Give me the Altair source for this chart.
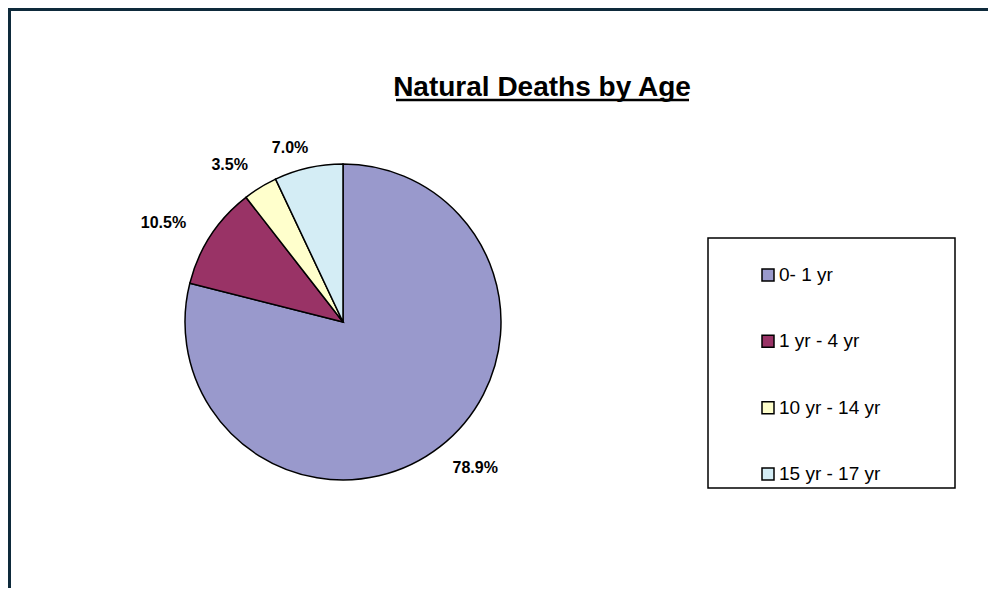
import altair as alt
import pandas as pd

title_text = "Natural Deaths by Age"
ages = ["0- 1 yr", "1 yr - 4 yr", "10 yr - 14 yr", "15 yr - 17 yr"]
deaths = [45, 6, 2, 4]
colors = ["#9999CC", "#993366", "#FFFFCC", "#D4EDF5"]

df = pd.DataFrame({"age": ages, "deaths": deaths, "idx": list(range(len(ages)))})
tdf = pd.DataFrame({"t": [title_text]})

FONT = "Liberation Sans"
CX, CY, R = 335, 314, 158
TOFF = -0.075

color = alt.Color("age:N", scale=alt.Scale(domain=ages, range=colors), legend=None)

frame_top = alt.Chart(tdf).mark_rule(color="#0E2A3B", strokeWidth=3).encode(
    x=alt.value(0), x2=alt.value(980), y=alt.value(1.5))
frame_left = alt.Chart(tdf).mark_rule(color="#0E2A3B", strokeWidth=3).encode(
    x=alt.value(1.5), y=alt.value(0), y2=alt.value(580))

arcs = alt.Chart(df).mark_arc(stroke="black", strokeWidth=1.5, radius=R).encode(
    theta=alt.Theta("deaths:Q", stack=True),
    color=color,
    order=alt.Order("idx:Q"),
    x=alt.value(CX), y=alt.value(CY),
)

labels = alt.Chart(df).transform_joinaggregate(
    total="sum(deaths)"
).transform_window(
    cum="sum(deaths)", sort=[alt.SortField("idx")], frame=[None, 0]
).transform_calculate(
    pct="datum.deaths / datum.total",
    midv="datum.cum - datum.deaths / 2",
).transform_calculate(
    mid=f"datum.midv / datum.total * 2 * PI + ({TOFF})",
).transform_calculate(
    lr="170 + 40 * abs(sin(datum.mid))"
).mark_text(thetaOffset=TOFF, fontSize=16, fontWeight="bold", font=FONT, color="black").encode(
    theta=alt.Theta("midv:Q", stack=None),
    radius=alt.Radius("lr:Q", scale=alt.Scale(type="linear", domain=[0, 300], range=[0, 300], zero=True)),
    text=alt.Text("pct:Q", format=".1%"),
    x=alt.value(CX), y=alt.value(CY),
)

title = alt.Chart(tdf).mark_text(fontSize=28, fontWeight="bold", font=FONT,
                                 baseline="alphabetic", align="center", color="black").encode(
    text="t:N", x=alt.value(534), y=alt.value(88))
underline = alt.Chart(tdf).mark_rule(color="black", strokeWidth=2.5).encode(
    x=alt.value(388), x2=alt.value(681), y=alt.value(92))

legend_box = alt.Chart(tdf).mark_rect(fill="white", stroke="black", strokeWidth=1.5).encode(
    x=alt.value(700), x2=alt.value(947), y=alt.value(230), y2=alt.value(480))

ly = alt.Y("age:N", scale=alt.Scale(domain=ages, range=[267, 466], padding=0), axis=None)
legend_sym = alt.Chart(df).mark_square(size=144, stroke="black", strokeWidth=1.5, opacity=1, filled=True).encode(
    y=ly, x=alt.value(760), color=color)
legend_txt = alt.Chart(df).mark_text(align="left", baseline="middle", fontSize=19, font=FONT, color="black").encode(
    y=ly, x=alt.value(771), text="age:N")

chart = alt.layer(
    frame_top, frame_left, arcs, labels, title, underline, legend_box, legend_sym, legend_txt
).properties(
    width=980, height=580, autosize=alt.AutoSizeParams(type="none"), padding=0,
    background="white"
).configure_view(stroke=None)

chart.save("out.html", embed_options={"renderer": "svg", "actions": False})
